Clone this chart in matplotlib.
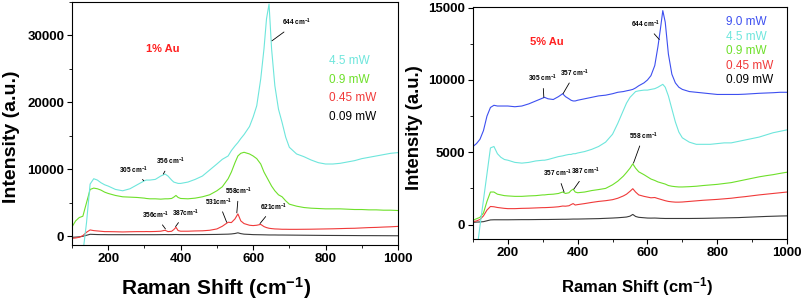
import matplotlib
matplotlib.use('Agg')
import matplotlib.pyplot as plt
from matplotlib.ticker import MultipleLocator

plt.rcParams['font.family'] = ['Liberation Sans', 'DejaVu Sans']
plt.rcParams['mathtext.default'] = 'regular'

# shared wavenumber grid (cm-1)
shift = [100, 110, 120, 130, 140, 150, 160, 170, 180, 190, 200, 220, 240, 260, 280,
         300, 305, 315, 330, 345, 357, 365, 375, 381, 387, 393, 400, 420, 440, 460,
         480, 500, 515, 531, 540, 550, 558, 566, 575, 590, 600, 610, 621, 630, 637,
         644, 651, 660, 670, 680, 690, 700, 720, 740, 760, 780, 800, 820, 840, 860,
         880, 900, 920, 940, 960, 980, 1000]

# ---- 1% Au ----
au1_45 = [-3000, -3000, -3000, -2500, 2000, 7800, 8600, 8400, 8000, 7700, 7500, 7000, 6800, 7100, 7700,
          8300, 8400, 8400, 8500, 9000, 9300, 9000, 8400, 8100, 8000, 7900, 7900, 8100, 8500, 9000,
          9900, 10800, 11500, 12000, 12800, 13500, 14000, 14600, 15200, 16400, 17800, 19500, 23500, 28000, 32500,
          34700, 28000, 22500, 19000, 17000, 14800, 13300, 12300, 11900, 11400, 11000, 10800, 10800, 10900, 11100,
          11300, 11600, 11800, 12000, 12200, 12400, 12500]
au1_09 = [1400, 2300, 2800, 3000, 5000, 7000, 7200, 7100, 6900, 6600, 6400, 6100, 5900, 5850, 5800,
          5700, 5650, 5600, 5600, 5550, 5600, 5600, 5650, 5850, 6100, 5800, 5650, 5600, 5700, 5900,
          6200, 6800, 7400, 8600, 9600, 11000, 12000, 12400, 12550, 12300, 12000, 11600, 10800, 9600, 8900,
          8200, 7500, 6800, 6200, 5900, 5300, 4800, 4500, 4300, 4200, 4150, 4100, 4100, 4100, 4050,
          4000, 4000, 3950, 3950, 3900, 3900, 3850]
au1_045 = [-300, -250, -150, 100, 600, 950, 850, 800, 750, 700, 700, 680, 650, 680, 700,
           700, 710, 700, 720, 760, 900, 700, 750, 1000, 1350, 850, 760, 760, 800, 820,
           900, 1100, 1500, 2100, 2050, 2600, 3350, 2300, 1900, 1650, 1600, 1650, 1780, 1450, 1300,
           1200, 1150, 1100, 1080, 1050, 1050, 1040, 1040, 1050, 1060, 1080, 1100, 1120, 1150, 1180,
           1200, 1250, 1300, 1330, 1380, 1420, 1480]
au1_009 = [-150, -120, -80, 0, 150, 300, 280, 260, 250, 250, 240, 240, 240, 240, 240,
           240, 240, 240, 240, 250, 260, 250, 250, 260, 270, 260, 250, 250, 250, 260,
           270, 280, 300, 320, 350, 420, 520, 400, 320, 280, 250, 240, 230, 220, 210,
           200, 200, 200, 190, 190, 185, 180, 170, 160, 150, 140, 130, 125, 120, 115,
           110, 100, 100, 95, 90, 85, 80]

# ---- 5% Au ----
au5_90 = [5400, 5600, 5900, 6500, 7500, 8100, 8250, 8200, 8200, 8200, 8200, 8150, 8200, 8350, 8550,
          8750, 8800, 8700, 8650, 8850, 9050, 8850, 8700, 8600, 8550, 8550, 8600, 8700, 8800, 8900,
          8950, 9050, 9150, 9200, 9250, 9300, 9350, 9450, 9600, 9800, 10000, 10300, 11000, 12300, 13500,
          14800, 14000, 11800, 10400, 9800, 9500, 9350, 9200, 9150, 9100, 9050, 9000, 9000, 9000, 9000,
          9020, 9050, 9080, 9100, 9120, 9150, 9150]
au5_45 = [-3000, -2000, -100, 1700, 3500, 5300, 5400, 4900, 4650, 4500, 4450, 4300, 4250, 4300, 4400,
          4450, 4450, 4500, 4600, 4700, 4750, 4800, 4850, 4850, 4900, 4900, 4950, 5050, 5200, 5400,
          5700, 6250, 7000, 7900, 8400, 8800, 9000, 9200, 9250, 9300, 9300, 9350, 9400, 9500, 9600,
          9700, 9500, 8900, 8000, 7100, 6400, 6000, 5700, 5550, 5550, 5550, 5600, 5650, 5650, 5750,
          5850, 5950, 6050, 6200, 6350, 6450, 6550]
au5_09 = [300, 400, 500, 800, 1600, 2250, 2250, 2100, 2050, 2000, 1980, 1950, 1950, 1980, 2000,
          2050, 2050, 2080, 2100, 2150, 2250, 2150, 2200, 2350, 2450, 2250, 2200, 2250, 2350, 2420,
          2500, 2750, 3000, 3350, 3600, 3900, 4200, 3900, 3650, 3450, 3300, 3150, 3050, 2950, 2900,
          2850, 2800, 2700, 2650, 2620, 2600, 2600, 2620, 2650, 2700, 2740, 2780, 2840, 2900, 3000,
          3100, 3200, 3300, 3380, 3450, 3540, 3620]
au5_045 = [200, 250, 350, 600, 1000, 1250, 1230, 1180, 1150, 1120, 1100, 1100, 1120, 1130, 1150,
           1170, 1170, 1180, 1200, 1230, 1280, 1270, 1300, 1380, 1450, 1350, 1380, 1450, 1530, 1600,
           1650, 1720, 1820, 1980, 2100, 2300, 2480, 2250, 2050, 1950, 1900, 1850, 1870, 1800, 1750,
           1700, 1650, 1600, 1570, 1550, 1550, 1560, 1600, 1640, 1680, 1710, 1740, 1780, 1820, 1880,
           1930, 1990, 2050, 2100, 2150, 2200, 2250]
au5_009 = [150, 170, 180, 200, 260, 320, 330, 330, 330, 330, 330, 335, 340, 340, 345,
           350, 350, 350, 355, 360, 365, 365, 370, 375, 380, 380, 380, 390, 400, 410,
           430, 450, 470, 500, 520, 580, 700, 560, 500, 470, 450, 445, 450, 440, 430,
           425, 420, 420, 420, 420, 420, 420, 420, 425, 430, 440, 450, 460, 470, 480,
           500, 520, 540, 560, 575, 590, 600]

labels_1 = ['4.5 mW', '0.9 mW', '0.45 mW', '0.09 mW']
labels_5 = ['9.0 mW', '4.5 mW', '0.9 mW', '0.45 mW', '0.09 mW']

c_blue = '#3d4ff0'
c_cyan = '#6ee6dc'
c_green = '#6ee02a'
c_red = '#f03a3a'
c_black = '#3a3a3a'

fig = plt.figure(figsize=(8.03, 3.01), dpi=100)
W, H = 803, 301
ax1 = fig.add_axes([72 / W, 1 - 245 / H, 326 / W, 243 / H])
ax2 = fig.add_axes([473 / W, 1 - 239 / H, 314 / W, 232 / H])

lw = 0.8
ax1.plot(shift, au1_009, color=c_black, lw=lw)
ax1.plot(shift, au1_045, color=c_red, lw=lw)
ax1.plot(shift, au1_09, color=c_green, lw=lw)
ax1.plot(shift, au1_45, color=c_cyan, lw=lw)

ax2.plot(shift, au5_009, color=c_black, lw=lw)
ax2.plot(shift, au5_045, color=c_red, lw=lw)
ax2.plot(shift, au5_09, color=c_green, lw=lw)
ax2.plot(shift, au5_45, color=c_cyan, lw=lw)
ax2.plot(shift, au5_90, color=c_blue, lw=lw)

ax1.set_xlim(100, 1000)
ax1.set_ylim(-1300, 35000)
ax1.yaxis.set_major_locator(MultipleLocator(10000))
ax1.yaxis.set_minor_locator(MultipleLocator(5000))
ax2.set_xlim(100, 1000)
ax2.set_ylim(-1000, 15050)
ax2.yaxis.set_major_locator(MultipleLocator(5000))
ax2.yaxis.set_minor_locator(MultipleLocator(2500))

for ax in (ax1, ax2):
    ax.set_xticks([200, 400, 600, 800, 1000])
    ax.xaxis.set_minor_locator(MultipleLocator(100))
    ax.tick_params(which='major', direction='out', length=3.5, width=0.8, pad=2, labelsize=9.5)
    ax.tick_params(which='minor', direction='out', length=2, width=0.6)
    for lab in ax.get_xticklabels() + ax.get_yticklabels():
        lab.set_fontweight('bold')
    for sp in ax.spines.values():
        sp.set_linewidth(0.8)

ax1.set_xlabel('Raman Shift (cm$^{-1}$)', fontsize=15, fontweight='bold')
ax1.set_ylabel('Intensity (a.u.)', fontsize=14, fontweight='bold')
ax1.xaxis.set_label_coords(0.442, -0.177)
ax1.xaxis.label.set_va('center')
ax1.yaxis.set_label_coords(-0.187, 0.446)
ax1.yaxis.label.set_va('center')

ax2.set_xlabel('Raman Shift (cm$^{-1}$)', fontsize=12, fontweight='bold')
ax2.set_ylabel('Intensity (a.u.)', fontsize=13.3, fontweight='bold')
ax2.xaxis.set_label_coords(0.522, -0.207)
ax2.xaxis.label.set_va('center')
ax2.yaxis.set_label_coords(-0.185, 0.48)
ax2.yaxis.label.set_va('center')

# sample labels
ax1.text(0.279, 0.805, '1% Au', transform=ax1.transAxes, color='#ff2020',
         fontsize=8, fontweight='bold', ha='center', va='center')
ax2.text(0.235, 0.85, '5% Au', transform=ax2.transAxes, color='#ff2020',
         fontsize=8, fontweight='bold', ha='center', va='center')

# power "legend" as coloured text
for i, (lab, col) in enumerate(zip(labels_1, [c_cyan, c_green, c_red, 'black'])):
    ax1.text(0.788, 0.757 - i * 0.077, lab, transform=ax1.transAxes, color=col,
             fontsize=8.5, ha='left', va='center')
for i, (lab, col) in enumerate(zip(labels_5, [c_blue, c_cyan, c_green, c_red, 'black'])):
    ax2.text(0.806, 0.935 - i * 0.0625, lab, transform=ax2.transAxes, color=col,
             fontsize=8.5, ha='left', va='center')

# peak labels with leader lines
arr = dict(arrowstyle='-', lw=0.6, color='black', shrinkA=1, shrinkB=0)
ann1 = [('644 cm$^{-1}$', (652, 29200), (720, 31900)),
        ('305 cm$^{-1}$', (298, 8300), (270, 9900)),
        ('356 cm$^{-1}$', (352, 9300), (372, 11170)),
        ('356cm$^{-1}$', (358, 1100), (330, 3130)),
        ('387cm$^{-1}$', (386, 1450), (413, 3470)),
        ('531cm$^{-1}$', (527, 2100), (505, 5110)),
        ('558cm$^{-1}$', (555, 3500), (560, 6700)),
        ('621cm$^{-1}$', (619, 1900), (656, 4370))]
for txt, xy, xyt in ann1:
    ax1.annotate(txt, xy=xy, xytext=xyt, fontsize=4.7, fontweight='bold',
                 ha='center', va='center', arrowprops=arr)

ann2 = [('644 cm$^{-1}$', (634, 12800), (595, 13850)),
        ('305 cm$^{-1}$', (303, 8800), (300, 10090)),
        ('357 cm$^{-1}$', (358, 9050), (392, 10460)),
        ('357 cm$^{-1}$', (361, 2250), (343, 3510)),
        ('387 cm$^{-1}$', (389, 2450), (424, 3650)),
        ('558 cm$^{-1}$', (560, 4250), (588, 6110))]
for txt, xy, xyt in ann2:
    ax2.annotate(txt, xy=xy, xytext=xyt, fontsize=4.7, fontweight='bold',
                 ha='center', va='center', arrowprops=arr)

fig.savefig('out.png', dpi=100)
